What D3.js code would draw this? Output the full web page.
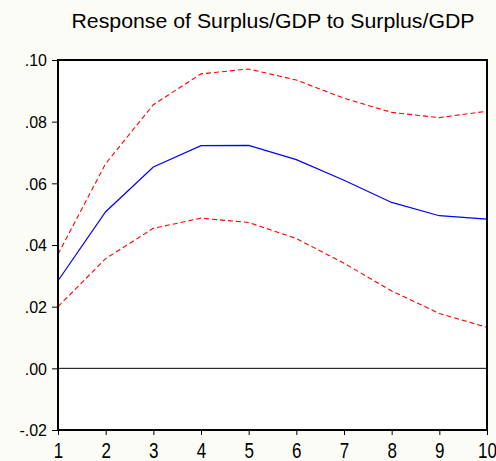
<!DOCTYPE html>
<html>
<head>
<meta charset="utf-8">
<script src="https://cdn.jsdelivr.net/npm/d3@7"></script>
<style>
  html, body { margin: 0; padding: 0; background: #fcfcf6; }
  svg { display: block; }
  text { font-family: "Liberation Sans", Arial, sans-serif; fill: #000; }
</style>
</head>
<body>
<svg id="chart" width="496" height="461"></svg>
<script>
// Impulse response horizon (periods)
const periods = [1, 2, 3, 4, 5, 6, 7, 8, 9, 10];
// Point estimate of the response
const response = [0.0284, 0.0508, 0.0653, 0.0722, 0.0723, 0.0677, 0.0610, 0.0538, 0.0495, 0.0484];
// Upper and lower ±2 S.E. bands
const upperBand = [0.0370, 0.0664, 0.0855, 0.0955, 0.0971, 0.0935, 0.0876, 0.0830, 0.0813, 0.0834];
const lowerBand = [0.0200, 0.0356, 0.0454, 0.0487, 0.0473, 0.0421, 0.0341, 0.0251, 0.0178, 0.0133];
// Axis ticks
const yTicks = [-0.02, 0.00, 0.02, 0.04, 0.06, 0.08, 0.10];
const yTickLabels = ["-.02", ".00", ".02", ".04", ".06", ".08", ".10"];
const title = "Response of Surplus/GDP to Surplus/GDP";

const svg = d3.select("#chart");
const plotLeft = 58, plotRight = 487, plotTop = 60, plotBottom = 430;

const x = d3.scaleLinear().domain([1, 10]).range([plotLeft, plotRight]);
const y = d3.scaleLinear().domain([-0.02, 0.10]).range([plotBottom, plotTop]);

// plot panel
svg.append("rect")
  .attr("x", plotLeft).attr("y", plotTop)
  .attr("width", plotRight - plotLeft).attr("height", plotBottom - plotTop)
  .attr("fill", "#ffffff");

// title
svg.append("text")
  .attr("x", 273).attr("y", 27.5)
  .attr("text-anchor", "middle")
  .attr("font-size", 21)
  .attr("textLength", 403)
  .attr("lengthAdjust", "spacingAndGlyphs")
  .text(title);

// y axis
const yAxis = d3.axisLeft(y)
  .tickValues(yTicks)
  .tickSize(6)
  .tickPadding(5)
  .tickFormat((d, i) => yTickLabels[i]);
const gy = svg.append("g").attr("transform", `translate(${plotLeft},0)`).call(yAxis);
gy.select(".domain").remove();
gy.selectAll(".tick line").attr("stroke", "#000").attr("stroke-width", 1);
gy.selectAll(".tick text")
  .attr("font-size", 16)
  .attr("font-family", "Liberation Sans, Arial, sans-serif")
  .attr("fill", "#000")
  .attr("dy", "0.36em");

// x axis
const xAxis = d3.axisBottom(x)
  .tickValues(periods)
  .tickSize(5)
  .tickPadding(0)
  .tickFormat(d3.format("d"));
const gx = svg.append("g").attr("transform", `translate(0,${plotBottom})`).call(xAxis);
gx.select(".domain").remove();
gx.selectAll(".tick line").attr("stroke", "#000").attr("stroke-width", 1);
gx.selectAll(".tick text")
  .attr("font-size", 17)
  .attr("font-family", "Liberation Sans, Arial, sans-serif")
  .attr("fill", "#000")
  .attr("y", 0).attr("dy", 0)
  .attr("transform", "translate(0,28) scale(1,1.25)");

// zero line
svg.append("line")
  .attr("x1", plotLeft).attr("x2", plotRight)
  .attr("y1", y(0)).attr("y2", y(0))
  .attr("stroke", "#000").attr("stroke-width", 1);

const line = d3.line()
  .x((d, i) => x(periods[i]))
  .y(d => y(d));

svg.append("path")
  .datum(upperBand)
  .attr("d", line)
  .attr("fill", "none")
  .attr("stroke", "#ff0000")
  .attr("stroke-width", 1.1)
  .attr("stroke-dasharray", "5,3");

svg.append("path")
  .datum(lowerBand)
  .attr("d", line)
  .attr("fill", "none")
  .attr("stroke", "#ff0000")
  .attr("stroke-width", 1.1)
  .attr("stroke-dasharray", "5,3");

svg.append("path")
  .datum(response)
  .attr("d", line)
  .attr("fill", "none")
  .attr("stroke", "#0000ff")
  .attr("stroke-width", 1.2);

// frame
svg.append("rect")
  .attr("x", plotLeft).attr("y", plotTop)
  .attr("width", plotRight - plotLeft).attr("height", plotBottom - plotTop)
  .attr("fill", "none")
  .attr("stroke", "#000")
  .attr("stroke-width", 2);
</script>
</body>
</html>
